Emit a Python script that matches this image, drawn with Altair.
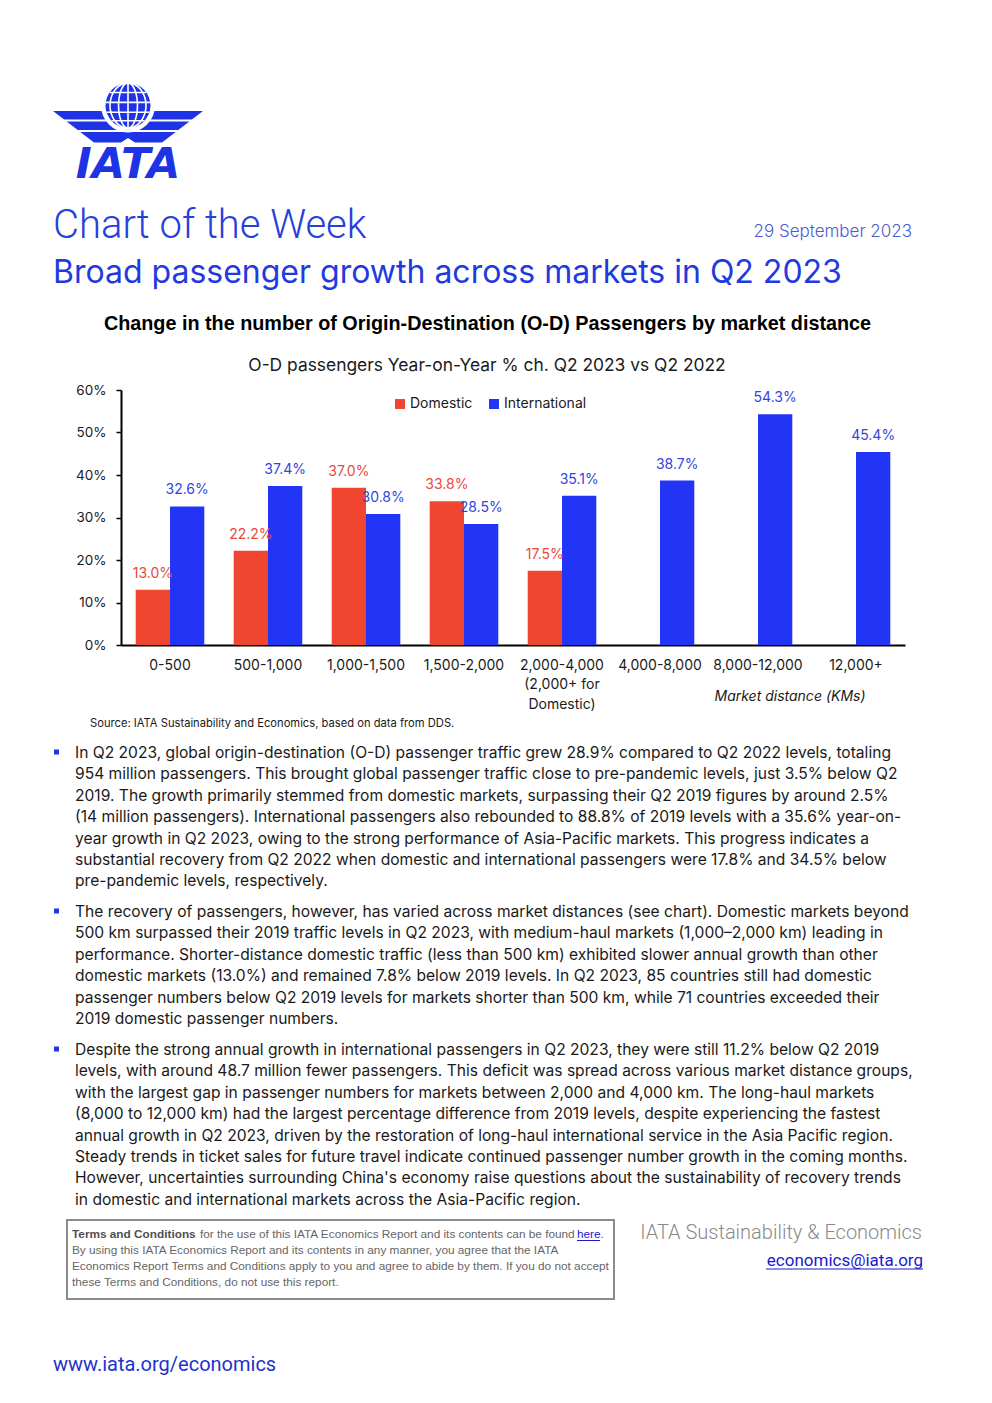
import math
import altair as alt
import pandas as pd

# ---------------- data ----------------
categories = ["0-500", "500-1,000", "1,000-1,500", "1,500-2,000", "2,000-4,000",
              "4,000-8,000", "8,000-12,000", "12,000+"]
domestic = [13.0, 22.2, 37.0, 33.8, 17.5]
international = [32.6, 37.4, 30.8, 28.5, 35.1, 38.7, 54.3, 45.4]
series_names = ["Domestic", "International"]
y_ticks = [0, 10, 20, 30, 40, 50, 60]

header_title = "Chart of the Week"
header_date = "29 September 2023"
headline = "Broad passenger growth across markets in Q2 2023"
chart_heading = "Change in the number of Origin-Destination (O-D) Passengers by market distance"
chart_subtitle = "O-D passengers Year-on-Year % ch. Q2 2023 vs Q2 2022"
x_axis_note = "Market distance (KMs)"
source_note = "Source: IATA Sustainability and Economics, based on data from DDS."

para1 = [
    "In Q2 2023, global origin-destination (O-D) passenger traffic grew 28.9% compared to Q2 2022 levels, totaling",
    "954 million passengers. This brought global passenger traffic close to pre-pandemic levels, just 3.5% below Q2",
    "2019. The growth primarily stemmed from domestic markets, surpassing their Q2 2019 figures by around 2.5%",
    "(14 million passengers). International passengers also rebounded to 88.8% of 2019 levels with a 35.6% year-on-",
    "year growth in Q2 2023, owing to the strong performance of Asia-Pacific markets. This progress indicates a",
    "substantial recovery from Q2 2022 when domestic and international passengers were 17.8% and 34.5% below",
    "pre-pandemic levels, respectively.",
]
para2 = [
    "The recovery of passengers, however, has varied across market distances (see chart). Domestic markets beyond",
    "500 km surpassed their 2019 traffic levels in Q2 2023, with medium-haul markets (1,000\u20132,000 km) leading in",
    "performance. Shorter-distance domestic traffic (less than 500 km) exhibited slower annual growth than other",
    "domestic markets (13.0%) and remained 7.8% below 2019 levels. In Q2 2023, 85 countries still had domestic",
    "passenger numbers below Q2 2019 levels for markets shorter than 500 km, while 71 countries exceeded their",
    "2019 domestic passenger numbers.",
]
para3 = [
    "Despite the strong annual growth in international passengers in Q2 2023, they were still 11.2% below Q2 2019",
    "levels, with around 48.7 million fewer passengers. This deficit was spread across various market distance groups,",
    "with the largest gap in passenger numbers for markets between 2,000 and 4,000 km. The long-haul markets",
    "(8,000 to 12,000 km) had the largest percentage difference from 2019 levels, despite experiencing the fastest",
    "annual growth in Q2 2023, driven by the restoration of long-haul international service in the Asia Pacific region.",
    "Steady trends in ticket sales for future travel indicate continued passenger number growth in the coming months.",
    "However, uncertainties surrounding China's economy raise questions about the sustainability of recovery trends",
    "in domestic and international markets across the Asia-Pacific region.",
]
terms_bold = "Terms and Conditions"
terms_rest = "for the use of this IATA Economics Report and its contents can be found"
terms_link = "here"
terms_lines = [
    "By using this IATA Economics Report and its contents in any manner, you agree that the IATA",
    "Economics Report Terms and Conditions apply to you and agree to abide by them. If you do not accept",
    "these Terms and Conditions, do not use this report.",
]
footer_dept = "IATA Sustainability & Economics"
footer_mail = "economics@iata.org"
footer_web = "www.iata.org/economics"

rows = [{"category": c, "series": "Domestic", "value": v} for c, v in zip(categories, domestic)]
rows += [{"category": c, "series": "International", "value": v} for c, v in zip(categories, international)]
df = pd.DataFrame(rows)

# ---------------- styles ----------------
RED = "#F0452F"
BLUE = "#2234F5"
RED_T = "#E8493C"
BLUE_T = "#3345DD"
INK = "#1a1a1a"
LOGO = "#1F33E6"
FOOT = "#666666"

W, H = 784, 255
PAD_L, PAD_T = 113, 382
TOTAL_W, TOTAL_H = 976, 1387

one = alt.InlineData(values=[{"k": 0}])


def txt(t, x, y, size, color=INK, weight="normal", align="left", font="Inter",
        style="normal", lh=None):
    kw = dict(text=t, fontSize=size, color=color, fontWeight=weight, align=align,
              baseline="alphabetic", font=font, fontStyle=style)
    if lh:
        kw["lineHeight"] = lh
    return alt.Chart(one).mark_text(**kw).encode(x=alt.value(x), y=alt.value(y))


def rule(x1, x2, y, color, w=1):
    return alt.Chart(one).mark_rule(color=color, strokeWidth=w).encode(
        x=alt.value(x1), x2=alt.value(x2), y=alt.value(y))


# ---------------- bar chart ----------------
label_expr = ("datum.value == '2,000-4,000' ? ['2,000-4,000', '(2,000+ for', 'Domestic)'] "
              ": datum.label")
x_enc = alt.X("category:N", sort=categories,
              scale=alt.Scale(paddingInner=0.3, paddingOuter=0.15),
              axis=alt.Axis(title=None, labelAngle=0, ticks=False, tickSize=0,
                            domainColor="black", domainWidth=2, labelFontSize=14,
                            labelPadding=13, labelColor=INK, labelLineHeight=19.5,
                            labelExpr=label_expr, labelOverlap=False, labelFont="Inter"))
y_enc = alt.Y("value:Q", scale=alt.Scale(domain=[0, 60], nice=False),
              axis=alt.Axis(title=None, values=y_ticks, labelExpr="datum.value + '%'",
                            grid=False, domainColor="black", domainWidth=2,
                            tickColor="black", tickWidth=1.5, tickSize=5,
                            labelPadding=10, labelFontSize=13.5, labelColor=INK,
                            labelFont="Inter"))
xoff = alt.XOffset("series:N", scale=alt.Scale(domain=series_names))

bars = alt.Chart(df).mark_bar().encode(
    x=x_enc, y=y_enc, xOffset=xoff,
    color=alt.Color("series:N",
                    scale=alt.Scale(domain=series_names, range=[RED, BLUE]),
                    legend=alt.Legend(orient="none", legendX=272, legendY=7,
                                      direction="horizontal", title=None,
                                      symbolType="square", symbolSize=100,
                                      symbolStrokeWidth=0, labelFont="Inter",
                                      labelFontSize=14, labelColor=INK, labelOffset=3,
                                      columnPadding=14, padding=0)))

labels = alt.Chart(df).transform_calculate(
    label="format(datum.value, '.1f') + '%'"
).mark_text(dy=-12, baseline="alphabetic", fontSize=14, font="Inter").encode(
    x=x_enc, y=y_enc, xOffset=xoff, text="label:N",
    color=alt.Color("series:N",
                    scale=alt.Scale(domain=series_names, range=[RED_T, BLUE_T]),
                    legend=None))

# ---------------- logo (decoration) ----------------
LX, LY, LU = 7, -275, 76.0


def u(px, py):
    return ((px - 128) / LU, (py - 115) / LU)


def path(pts, close=True):
    s = "M" + "L".join(f"{a:.4f},{b:.4f}" for a, b in pts)
    return s + ("Z" if close else "")


wing_pts = [u(53, 111), u(203, 111), u(162, 142.5), u(135, 142.5), u(128, 138),
            u(121, 142.5), u(94, 142.5)]
wing_path = path(wing_pts)
stripe_path = (path([u(44, 120.5), u(212, 120.5)], False) + " " +
               path([u(44, 131), u(212, 131)], False))

grid_parts = ["M0,-1L0,1"]
for a in (0.42, 0.8):
    right = [(a * math.sin(t * math.pi / 24), -math.cos(t * math.pi / 24)) for t in range(25)]
    left = [(-p[0], p[1]) for p in right]
    grid_parts.append(path(right, False))
    grid_parts.append(path(left, False))
for yy in (-0.58, -0.14, 0.3, 0.68):
    xx = math.sqrt(1 - yy * yy)
    grid_parts.append(path([(-xx, yy), (xx, yy)], False))
grid_path = " ".join(grid_parts)

GX, GY = 7, -284.5
logo = [
    alt.Chart(one).mark_point(shape=wing_path, size=(2 * LU) ** 2, filled=True,
                              color=LOGO, opacity=1, strokeWidth=0).encode(
        x=alt.value(LX), y=alt.value(LY)),
    alt.Chart(one).mark_point(shape=stripe_path, size=(2 * LU) ** 2, filled=False,
                              stroke="white", strokeWidth=2.2, opacity=1).encode(
        x=alt.value(LX), y=alt.value(LY)),
    alt.Chart(one).mark_point(shape="circle", size=54 ** 2, filled=True,
                              color="white", opacity=1, strokeWidth=0).encode(
        x=alt.value(GX), y=alt.value(GY)),
    alt.Chart(one).mark_point(shape="circle", size=45 ** 2, filled=True,
                              color=LOGO, opacity=1, strokeWidth=0).encode(
        x=alt.value(GX), y=alt.value(GY)),
    alt.Chart(one).mark_point(shape=grid_path, size=45 ** 2, filled=False,
                              stroke="white", strokeWidth=1.6, opacity=1).encode(
        x=alt.value(GX), y=alt.value(GY)),
    txt("IATA", 7, -212, 43, color=LOGO, weight="bold", align="center",
        font="DejaVu Sans", style="italic"),
]

# ---------------- page texts ----------------
BODY = 15.6
decor = logo + [
    txt(header_title, -68, -152, 40, color="#2540DC", weight=300, font="Roboto"),
    txt(header_date, 791, -153, 17, color="#4A5BD4", weight=300, align="right"),
    txt(headline, -68, -107, 32, color="#1F3ADF"),
    txt(chart_heading, 366.5, -60.5, 19.8, color="black", weight="bold", align="center",
        font="Liberation Sans"),
    txt(chart_subtitle, 366, -19, 17.4, color=INK, align="center"),
    txt(x_axis_note, 669, 311, 14, color=INK, align="center", style="italic"),
    txt(source_note, -31, 337, 11.2, color=INK),
    txt(para1, -46, 368, BODY, color=INK, lh=21.4),
    txt(para2, -46, 527, BODY, color=INK, lh=21.4),
    txt(para3, -46, 665, BODY, color=INK, lh=21.4),
]
for by in (362, 521, 659):
    decor.append(alt.Chart(one).mark_point(shape="square", size=25, filled=True,
                                           color="#2233EE", opacity=1).encode(
        x=alt.value(-64.5), y=alt.value(by)))

# footer
FS = 11.8
decor += [
    alt.Chart(one).mark_rect(fillOpacity=0, stroke="#8c8c8c", strokeWidth=2).encode(
        x=alt.value(-54), x2=alt.value(493), y=alt.value(830), y2=alt.value(909)),
    txt(terms_bold, -49, 848, FS, color="#505050", weight="bold", font="Liberation Sans"),
    txt(terms_rest, 79, 848, FS, color=FOOT, font="Liberation Sans"),
    txt(terms_link, 456, 848, FS, color="#1a1ad0", font="Liberation Sans"),
    rule(456, 479, 850.5, "#1a1ad0", 1),
    txt(".", 479.5, 848, FS, color=FOOT, font="Liberation Sans"),
    txt(terms_lines, -49, 864, FS, color=FOOT, font="Liberation Sans", lh=16),
    txt(footer_dept, 801, 849, 20, color="#8a8a8a", weight=300, align="right", font="Roboto"),
    txt(footer_mail, 802, 876, 17, color="#1a1ad0", align="right", font="Roboto"),
    rule(645, 802, 879, "#1a1ad0", 1),
    txt(footer_web, -68, 981, 20, color="#2233CC", font="Roboto"),
]

chart = alt.layer(bars, labels, *decor).resolve_scale(color="independent").properties(
    width=W, height=H,
    padding={"left": PAD_L, "top": PAD_T, "right": TOTAL_W - PAD_L - W,
             "bottom": TOTAL_H - PAD_T - H},
    autosize=alt.AutoSizeParams(type="none"),
).configure(font="Inter").configure_view(strokeWidth=0)

chart.save("out.html", embed_options={"renderer": "svg", "actions": False})
